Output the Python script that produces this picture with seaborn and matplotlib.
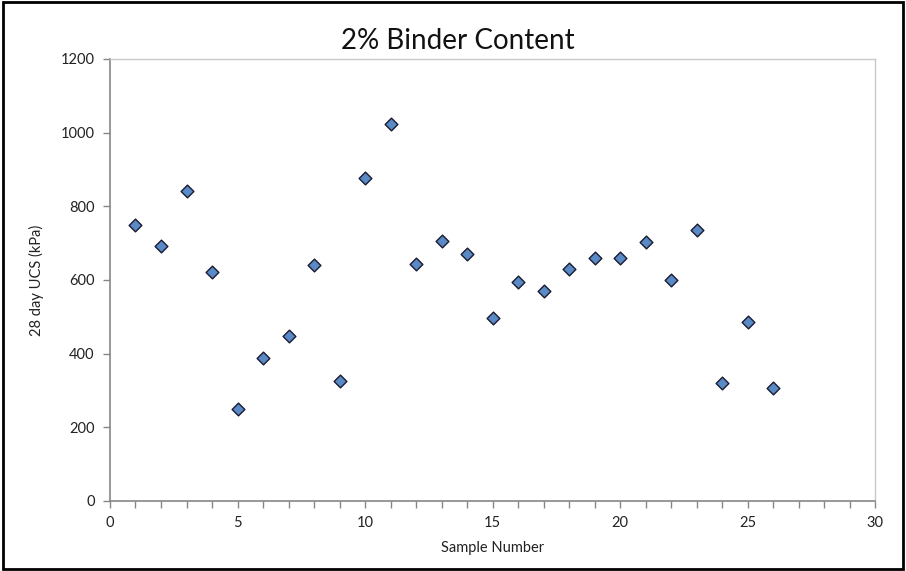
import matplotlib
matplotlib.use("Agg")
import matplotlib.pyplot as plt
import seaborn as sns
import pandas as pd
from matplotlib.patches import Rectangle
from matplotlib.ticker import MultipleLocator

sample_number = list(range(1, 27))
ucs_kpa = [749, 691, 842, 623, 249, 389, 447, 641, 325, 878, 1023, 643,
           705, 670, 496, 594, 571, 630, 661, 661, 702, 600, 737, 321, 487, 308]

title = "2% Binder Content"
x_label = "Sample Number"
y_label = "28 day UCS (kPa)"

sns.set_style("white")
plt.rcParams['font.family'] = ['Lato', 'DejaVu Sans']

df = pd.DataFrame({"Sample Number": sample_number, "UCS": ucs_kpa})

fig = plt.figure(figsize=(9.06, 5.71), dpi=100)
ax = fig.add_axes([0.1214, 0.1226, 0.966 - 0.1214, 0.8967 - 0.1226])

sns.scatterplot(data=df, x="Sample Number", y="UCS", ax=ax, marker="D", s=42,
                color="#5a8ac6", edgecolor="#1a1a2e", linewidth=1.0, zorder=3)

ax.set_xlim(0, 30)
ax.set_ylim(0, 1200)
ax.xaxis.set_major_locator(MultipleLocator(5))
ax.xaxis.set_minor_locator(MultipleLocator(1))
ax.yaxis.set_major_locator(MultipleLocator(200))

for side in ["left", "bottom"]:
    ax.spines[side].set_color("#868686")
    ax.spines[side].set_linewidth(1.2)
for side in ["top", "right"]:
    ax.spines[side].set_visible(True)
    ax.spines[side].set_color("#c8c8c8")
    ax.spines[side].set_linewidth(1.0)

ax.tick_params(axis="both", which="both", direction="out", color="#868686",
               width=1.0, length=5, labelsize=10.5, labelcolor="#222222", pad=6)
ax.tick_params(axis="x", which="minor", length=5)
ax.tick_params(top=False, right=False, which="both")
ax.tick_params(axis="x", which="both", bottom=True)
ax.tick_params(axis="y", which="both", left=True)

ax.set_xlabel(x_label, fontsize=10.5, color="#222222", labelpad=8)
ax.set_ylabel(y_label, fontsize=10.5, color="#222222", labelpad=12)
fig.text(0.505, 0.928, title, ha="center", va="center", fontsize=20, color="#111111")

fig.patches.append(Rectangle((0.003, 0.004), 0.994, 0.992, transform=fig.transFigure,
                             fill=False, edgecolor="black", linewidth=2.0))

fig.savefig("out.png", dpi=100)
